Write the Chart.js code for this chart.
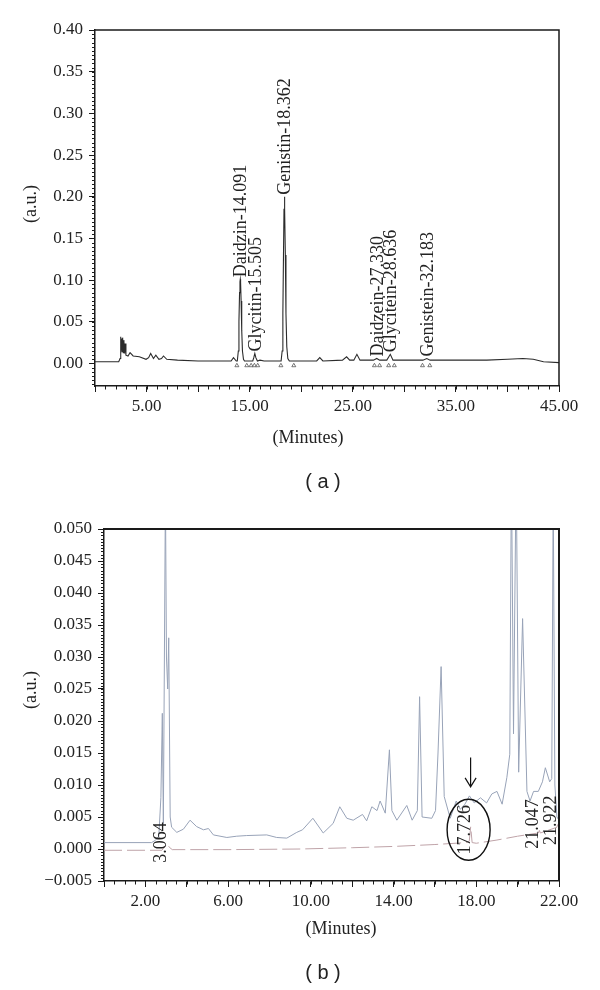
<!DOCTYPE html>
<html>
<head>
<meta charset="utf-8">
<script src="https://cdn.jsdelivr.net/npm/chart.js@4.4.1/dist/chart.umd.min.js"></script>
<style>
  html, body { margin: 0; padding: 0; background: #fff; }
  #wrap { position: relative; width: 600px; height: 990px; overflow: hidden; }
  canvas { position: absolute; left: 0; }
  .t { position: absolute; transform: translate(-50%, -50%); white-space: nowrap; line-height: 1;
       font-family: "Liberation Serif", serif; font-size: 18px; color: #222; }
  .r { transform: translate(-50%, -50%) rotate(-90deg); }
  .cap { font-family: "Liberation Sans", Arial, sans-serif; font-size: 20px; }
</style>
</head>
<body>
<div id="wrap">
  <canvas id="chartA" width="600" height="460" style="top:0"></canvas>
  <canvas id="chartB" width="600" height="460" style="top:490px"></canvas>
  <div class="t r" style="left:30px;top:204px">(a.u.)</div>
  <div class="t" style="left:308px;top:437px">(Minutes)</div>
  <div class="t cap" style="left:323px;top:481px">( a )</div>
  <div class="t r" style="left:30px;top:690px">(a.u.)</div>
  <div class="t" style="left:341px;top:928px">(Minutes)</div>
  <div class="t cap" style="left:323px;top:972px">( b )</div>
</div>
<script>
// ---- panel (a): soy isoflavone standards ----
const aTime = [0, 2.3, 2.43, 2.47, 2.52, 2.58, 2.63, 2.68, 2.74, 2.8, 2.86, 2.91, 3.0, 3.2, 3.4, 3.7, 4.3, 4.95,
  5.2, 5.4, 5.67, 5.9, 6.2, 6.45, 6.64, 6.96, 8.0, 10.0, 12.0, 13.2, 13.43, 13.7,
  13.8, 13.9, 13.96, 14.02, 14.06, 14.09, 14.12, 14.17, 14.23, 14.3, 14.4, 14.5,
  15.3, 15.4, 15.5, 15.6, 15.75, 16.0, 16.4,
  18.05, 18.15, 18.22, 18.28, 18.33, 18.37, 18.41, 18.46, 18.52, 18.6, 18.7, 18.85,
  20.0, 21.5, 21.8, 22.1, 24.0, 24.4, 24.7, 25.1, 25.4, 25.7,
  27.0, 27.33, 27.6, 28.3, 28.64, 28.9, 31.8, 32.18, 32.5, 35.0, 38.0, 40.0, 41.5, 42.5, 43.5, 45.0];
const aSignal = [0.002, 0.002, 0.006, 0.032, 0.012, 0.030, 0.014, 0.031, 0.013, 0.028, 0.012, 0.024, 0.010,
  0.009, 0.013, 0.009, 0.008, 0.005, 0.007, 0.012, 0.006, 0.010, 0.005, 0.006, 0.009, 0.005, 0.004, 0.003,
  0.003, 0.003, 0.007, 0.003,
  0.003, 0.015, 0.050, 0.085, 0.098, 0.101, 0.097, 0.075, 0.040, 0.015, 0.005, 0.003,
  0.003, 0.007, 0.012, 0.007, 0.003, 0.004, 0.003,
  0.003, 0.015, 0.060, 0.130, 0.185, 0.200, 0.185, 0.130, 0.060, 0.020, 0.006, 0.003,
  0.003, 0.003, 0.007, 0.003, 0.004, 0.008, 0.004, 0.004, 0.011, 0.004,
  0.004, 0.006, 0.004, 0.004, 0.011, 0.004, 0.004, 0.006, 0.004, 0.004, 0.004, 0.005, 0.006, 0.005, 0.002, 0.001];
const aPeakNames = ["Daidzin-14.091", "Glycitin-15.505", "Genistin-18.362", "Daidzein-27.330", "Glycitein-28.636", "Genistein-32.183"];
const aPeakTimes = [14.091, 15.505, 18.362, 27.330, 28.636, 32.183];
const aMarkTimes = [13.76, 14.72, 15.14, 15.46, 15.78, 18.03, 19.28, 27.1, 27.6, 28.48, 29.03, 31.76, 32.47];
const aMarkLevel = -0.0025;
const aXTicks = [0, 5, 10, 15, 20, 25, 30, 35, 40, 45];
const aXLabels = [5, 15, 25, 35, 45];
const aYTicks = [0, 0.05, 0.10, 0.15, 0.20, 0.25, 0.30, 0.35, 0.40];

// ---- panel (b): sample, zoomed ----
const bTime = [0, 2.3, 2.5, 2.65, 2.75, 2.82, 2.87, 2.92, 2.97, 3.02, 3.08, 3.13, 3.2, 3.27, 3.52, 3.84, 4.16,
  4.48, 4.81, 5.05, 5.29, 5.94, 6.42, 6.9, 7.87, 8.35, 8.84, 9.32, 9.6, 10.1, 10.6, 11.08, 11.4, 11.74, 12.05,
  12.5, 12.7, 12.95, 13.2, 13.35, 13.6, 13.8, 13.92, 14.16, 14.64, 14.9, 15.15, 15.26, 15.38, 15.85, 16.03,
  16.15, 16.3, 16.45, 16.74, 17.03, 17.23, 17.45, 17.67, 17.9, 18.2, 18.5, 18.75, 19.0, 19.25, 19.48, 19.62,
  19.7, 19.8, 19.93, 20.05, 20.24, 20.45, 20.6, 20.77, 21.0, 21.2, 21.34, 21.55, 21.65, 21.72, 21.8, 21.9, 22.0];
const bUpper = [0.0010, 0.0010, 0.0014, 0.0020, 0.0080, 0.0212, 0.0040, 0.0300, 0.0560, 0.0300, 0.0250, 0.0330,
  0.0050, 0.0034, 0.0026, 0.0031, 0.0045, 0.0035, 0.0030, 0.0032, 0.0022, 0.0018, 0.0020, 0.0021, 0.0022,
  0.0018, 0.0017, 0.0026, 0.0030, 0.0048, 0.0025, 0.0040, 0.0066, 0.0048, 0.0045, 0.0054, 0.0044, 0.0066,
  0.0060, 0.0075, 0.0056, 0.0155, 0.0060, 0.0045, 0.0068, 0.0045, 0.0060, 0.0238, 0.0050, 0.0048, 0.0060,
  0.0150, 0.0285, 0.0082, 0.0048, 0.0075, 0.0062, 0.0070, 0.0083, 0.0072, 0.0080, 0.0072, 0.0086, 0.0090,
  0.0070, 0.0112, 0.0148, 0.0600, 0.0180, 0.0600, 0.0120, 0.0360, 0.0090, 0.0075, 0.0090, 0.0090, 0.0105,
  0.0127, 0.0105, 0.0110, 0.0560, 0.0100, 0.0050, 0.0045];
const bLowTime = [0, 2.8, 2.95, 3.06, 3.15, 3.3, 6.0, 9.5, 12.0, 14.0, 16.0, 17.5, 17.66, 17.73, 17.8, 18.0,
  19.0, 20.0, 21.0, 21.05, 21.1, 21.9, 21.93, 22.0];
const bLower = [-0.0002, -0.0002, 0.0004, 0.0008, 0.0003, -0.0001, -0.0001, 0.0000, 0.0002, 0.0004, 0.0007,
  0.0010, 0.0012, 0.0035, 0.0010, 0.0009, 0.0014, 0.0020, 0.0025, 0.0029, 0.0025, 0.0034, 0.0038, 0.0035];
const bPeakNames = ["3.064", "17.726", "21.047", "21.922"];
const bPeakTimes = [3.064, 17.726, 21.047, 21.922];
const bPeakLevels = [0.0010, 0.0030, 0.0039, 0.0045];
const bArrowFrom = 0.0143, bArrowTo = 0.0097;
const bXTicks = [0, 2, 4, 6, 8, 10, 12, 14, 16, 18, 20, 22];
const bXLabels = [2, 6, 10, 14, 18, 22];
const bYTicks = [-0.005, 0, 0.005, 0.010, 0.015, 0.020, 0.025, 0.030, 0.035, 0.040, 0.045, 0.050];

const INK = "#1a1a1a";
const tickFont = { family: "Liberation Serif", size: 17 };

// minor ticks outside the axes, plus the top/right frame
const axisDecor = {
  id: "axisDecor",
  afterDraw(chart, args, opts) {
    const { ctx, chartArea: ca, scales: { x, y } } = chart;
    ctx.save();
    ctx.strokeStyle = INK;
    ctx.lineWidth = 1;
    ctx.beginPath();
    for (let i = Math.ceil(x.min / opts.xMinor - 1e-6); i * opts.xMinor <= x.max + 1e-9; i++) {
      const px = Math.round(x.getPixelForValue(i * opts.xMinor)) + 0.5;
      ctx.moveTo(px, ca.bottom);
      ctx.lineTo(px, ca.bottom + 3.5);
    }
    for (let i = Math.ceil(y.min / opts.yMinor - 1e-6); i * opts.yMinor <= y.max + 1e-9; i++) {
      const py = Math.round(y.getPixelForValue(i * opts.yMinor)) + 0.5;
      ctx.moveTo(ca.left, py);
      ctx.lineTo(ca.left - 3, py);
    }
    ctx.stroke();
    ctx.lineWidth = opts.frame;
    ctx.beginPath();
    ctx.moveTo(ca.left, ca.top);
    ctx.lineTo(ca.right, ca.top);
    ctx.lineTo(ca.right, ca.bottom);
    ctx.stroke();
    ctx.restore();
  }
};

function peakTop(t) {
  let m = -Infinity;
  aTime.forEach((v, i) => { if (Math.abs(v - t) <= 0.12) m = Math.max(m, aSignal[i]); });
  return m;
}

const peakLabelsA = {
  id: "peakLabelsA",
  afterDatasetsDraw(chart) {
    const { ctx, scales: { x, y } } = chart;
    ctx.save();
    ctx.font = '18px "Liberation Serif"';
    ctx.fillStyle = "#222";
    ctx.textAlign = "left";
    ctx.textBaseline = "middle";
    aPeakNames.forEach((name, i) => {
      const t = aPeakTimes[i];
      ctx.save();
      ctx.translate(x.getPixelForValue(t) + 1, y.getPixelForValue(peakTop(t)) - 2);
      ctx.rotate(-Math.PI / 2);
      ctx.fillText(name, 0, 0);
      ctx.restore();
    });
    ctx.restore();
  }
};

const peakLabelsB = {
  id: "peakLabelsB",
  afterDatasetsDraw(chart) {
    const { ctx, scales: { x, y } } = chart;
    ctx.save();
    ctx.font = '18px "Liberation Serif"';
    ctx.fillStyle = "#222";
    ctx.textAlign = "center";
    ctx.textBaseline = "alphabetic";
    bPeakNames.forEach((name, i) => {
      ctx.save();
      // baseline sits on the retention time, so the text reads just left of it
      ctx.translate(x.getPixelForValue(bPeakTimes[i]) - 1, y.getPixelForValue(bPeakLevels[i]));
      ctx.rotate(-Math.PI / 2);
      ctx.fillText(name, 0, 0);
      ctx.restore();
    });
    // circled peak and the arrow pointing at it
    const cx = x.getPixelForValue(bPeakTimes[1]);
    const cy = y.getPixelForValue(bPeakLevels[1]);
    ctx.strokeStyle = "#111";
    ctx.lineWidth = 1.4;
    ctx.beginPath();
    ctx.ellipse(cx - 2, cy, 21.5, 30.5, 0, 0, Math.PI * 2);
    ctx.stroke();
    const y0 = y.getPixelForValue(bArrowFrom), y1 = y.getPixelForValue(bArrowTo);
    ctx.lineWidth = 1.2;
    ctx.beginPath();
    ctx.moveTo(cx, y0);
    ctx.lineTo(cx, y1);
    ctx.moveTo(cx - 5.5, y1 - 9);
    ctx.lineTo(cx, y1);
    ctx.lineTo(cx + 5.5, y1 - 9);
    ctx.stroke();
    ctx.restore();
  }
};

function axes(xMin, xMax, xTicks, xLabels, yMin, yMax, yTicks, yFmt, yWidth, xHeight, borderW) {
  const grid = { display: true, drawOnChartArea: false, drawTicks: true, tickLength: 6, tickColor: INK, tickWidth: 1 };
  return {
    x: {
      type: "linear", min: xMin, max: xMax, bounds: "data",
      afterBuildTicks: (s) => { s.ticks = xTicks.map((v) => ({ value: v })); },
      afterFit: (s) => { s.height = xHeight; },
      grid,
      border: { display: true, color: INK, width: borderW },
      ticks: { autoSkip: false, maxRotation: 0, padding: 4, color: "#222", font: tickFont,
        callback: (v) => (xLabels.includes(v) ? v.toFixed(2) : "") }
    },
    y: {
      type: "linear", min: yMin, max: yMax, bounds: "data",
      afterBuildTicks: (s) => { s.ticks = yTicks.map((v) => ({ value: v })); },
      afterFit: (s) => { s.width = yWidth; },
      grid,
      border: { display: true, color: INK, width: borderW },
      ticks: { autoSkip: false, padding: 6, color: "#222", font: tickFont, callback: yFmt }
    }
  };
}

const common = {
  responsive: false,
  animation: false,
  events: [],
  plugins: { legend: { display: false }, tooltip: { enabled: false } }
};

new Chart(document.getElementById("chartA"), {
  type: "line",
  data: {
    datasets: [
      {
        data: aTime.map((t, i) => ({ x: t, y: aSignal[i] })),
        borderColor: "#2b2b2b", borderWidth: 1.1, pointRadius: 0, tension: 0, clip: 0
      },
      {
        data: aMarkTimes.map((t) => ({ x: t, y: aMarkLevel })),
        showLine: false, pointStyle: "triangle", pointRadius: 2.3,
        pointBorderColor: "#555", pointBackgroundColor: "#fff", pointBorderWidth: 0.8
      }
    ]
  },
  options: {
    ...common,
    layout: { padding: { left: 0, top: 30, right: 41, bottom: 0 } },
    scales: axes(0, 45, aXTicks, aXLabels, -0.027, 0.40, aYTicks, (v) => v.toFixed(2), 95, 74, 1.5),
    plugins: { ...common.plugins, axisDecor: { xMinor: 1, yMinor: 0.005, frame: 1.5 } }
  },
  plugins: [axisDecor, peakLabelsA]
});

new Chart(document.getElementById("chartB"), {
  type: "line",
  data: {
    datasets: [
      {
        data: bLowTime.map((t, i) => ({ x: t, y: bLower[i] })),
        borderColor: "#bfa3a8", borderWidth: 1, borderDash: [18, 5], pointRadius: 0, tension: 0, clip: 0
      },
      {
        data: bTime.map((t, i) => ({ x: t, y: bUpper[i] })),
        borderColor: "#98a3b8", borderWidth: 1, pointRadius: 0, tension: 0, clip: 0
      }
    ]
  },
  options: {
    ...common,
    layout: { padding: { left: 0, top: 39, right: 41, bottom: 0 } },
    scales: axes(0, 22, bXTicks, bXLabels, -0.005, 0.050, bYTicks,
      (v) => v.toFixed(3).replace("-", "\u2212"), 104, 69, 1.5),
    plugins: { ...common.plugins, axisDecor: { xMinor: 0.5, yMinor: 0.0005, frame: 2 } }
  },
  plugins: [axisDecor, peakLabelsB]
});
</script>
</body>
</html>
